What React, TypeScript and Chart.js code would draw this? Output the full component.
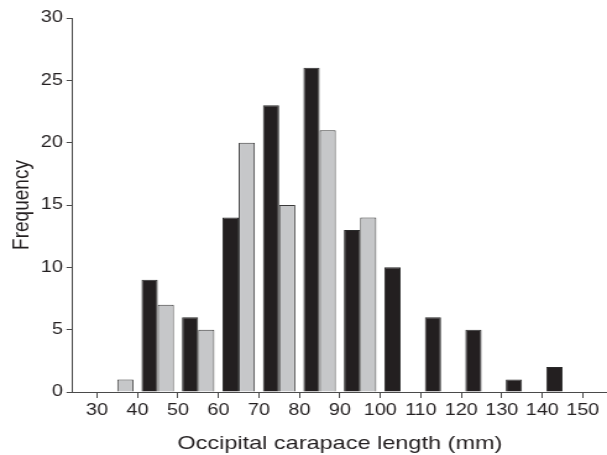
import React, { useEffect, useRef } from 'react';
import { Chart, registerables } from 'chart.js';

Chart.register(...registerables);

// Bin centres (mm) for the 10 mm classes 30-40, 40-50, ... 140-150
const binCenters = [35, 45, 55, 65, 75, 85, 95, 105, 115, 125, 135, 145];
// Frequencies
const blackSeries = [0, 9, 6, 14, 23, 26, 13, 10, 6, 5, 1, 2];
const greySeries = [1, 7, 5, 20, 15, 21, 14, 0, 0, 0, 0, 0];
// Axis tick labels
const xTickValues = [30, 40, 50, 60, 70, 80, 90, 100, 110, 120, 130, 140, 150];
const yTickValues = [0, 5, 10, 15, 20, 25, 30];

const CSS_W = 607;
const CSS_H = 455;
const STRETCH = 1.2363;
const W = Math.round(CSS_W / STRETCH);

const FONT = '"Liberation Sans", Arial, Helvetica, sans-serif';
const TEXT = '#231f20';
const AXIS = '#4a4a4a';

export default function App() {
  const ref = useRef<HTMLCanvasElement | null>(null);

  useEffect(() => {
    const canvas = ref.current;
    if (!canvas) return;
    const chart = new Chart(canvas, {
      type: 'bar',
      data: {
        datasets: [
          {
            label: 'black',
            data: binCenters.map((x, i) => ({ x, y: blackSeries[i] })),
            backgroundColor: '#231f20',
            borderColor: '#2a2a2a',
            borderWidth: 1,
            categoryPercentage: 0.8,
            barPercentage: 1.0,
          },
          {
            label: 'grey',
            data: binCenters.map((x, i) => ({ x, y: greySeries[i] })),
            backgroundColor: '#c6c7c9',
            borderColor: '#3a3a3a',
            borderWidth: 1,
            categoryPercentage: 0.8,
            barPercentage: 1.0,
          },
        ],
      },
      options: {
        animation: false,
        responsive: false,
        devicePixelRatio: 1,
        layout: { padding: { top: 18, left: 0, right: 0, bottom: 0 } },
        plugins: {
          legend: { display: false },
          tooltip: { enabled: false },
        },
        scales: {
          x: {
            type: 'linear',
            min: 24,
            max: 156,
            offset: false,
            grid: {
              display: true,
              offset: false,
              drawOnChartArea: false,
              drawTicks: true,
              tickLength: 6,
              color: AXIS,
              lineWidth: 1,
            },
            border: { display: true, color: AXIS, width: 1 },
            ticks: {
              font: { family: FONT, size: 16 },
              color: TEXT,
              padding: 3,
              autoSkip: false,
              maxRotation: 0,
              minRotation: 0,
              callback: (v: any) => String(v),
            },
            afterBuildTicks: (s: any) => {
              s.ticks = xTickValues.map((v) => ({ value: v }));
            },
            afterFit: (s: any) => {
              s.height = 63;
            },
            title: {
              display: true,
              text: 'Occipital carapace length (mm)',
              font: { family: FONT, size: 19, lineHeight: 1.2 },
              color: TEXT,
              padding: { top: 0, bottom: 0 },
            },
          },
          y: {
            min: 0,
            max: 30,
            grid: {
              display: true,
              drawOnChartArea: false,
              drawTicks: true,
              tickLength: 5,
              color: AXIS,
              lineWidth: 1,
            },
            border: { display: true, color: AXIS, width: 1 },
            ticks: {
              font: { family: FONT, size: 16 },
              color: TEXT,
              padding: 3,
              stepSize: 5,
            },
            afterBuildTicks: (s: any) => {
              s.ticks = yTickValues.map((v) => ({ value: v }));
            },
            afterFit: (s: any) => {
              s.width = 58.8;
            },
            title: {
              display: true,
              text: 'Frequency',
              font: { family: FONT, size: 19, lineHeight: 1.2 },
              color: TEXT,
              padding: { top: 6, bottom: 0 },
            },
          },
        },
      },
    });
    return () => chart.destroy();
  }, []);

  return (
    <div style={{ position: 'absolute', left: 0, top: 0, width: CSS_W, height: CSS_H, background: '#fff' }}>
      <canvas
        ref={ref}
        width={W}
        height={CSS_H}
        style={{ width: CSS_W + 'px', height: CSS_H + 'px', display: 'block' }}
      />
    </div>
  );
}
